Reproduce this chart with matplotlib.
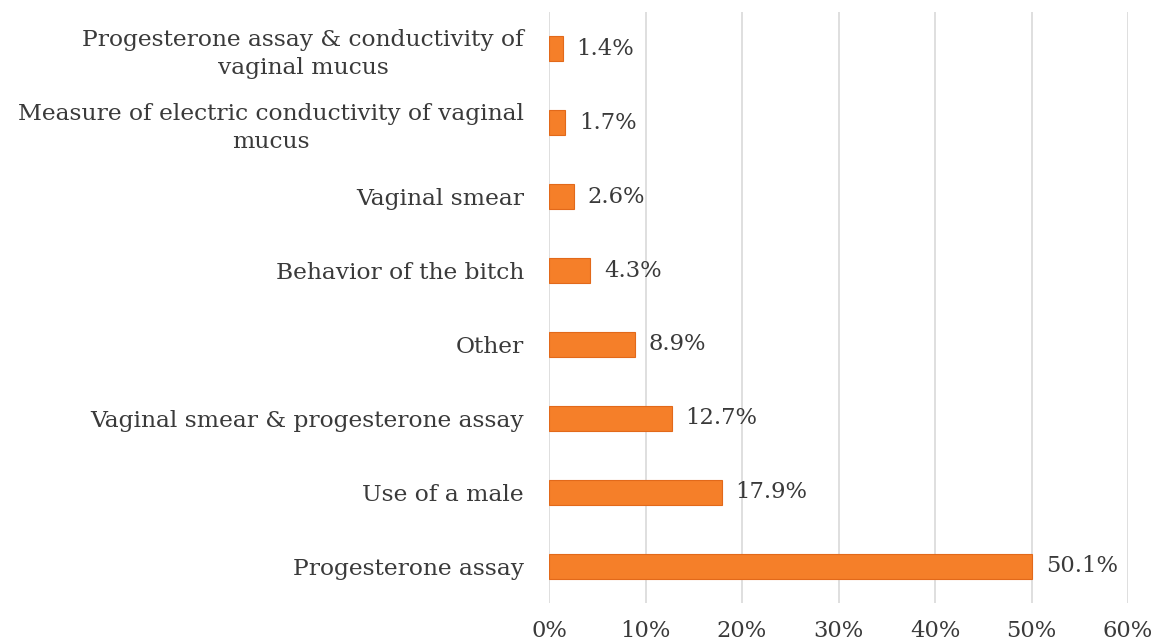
import matplotlib.pyplot as plt
from matplotlib.ticker import FuncFormatter

# data, bottom to top
methods = ['Progesterone assay', 'Use of a male',
           'Vaginal smear & progesterone assay', 'Other',
           'Behavior of the bitch', 'Vaginal smear',
           'Measure of electric conductivity of vaginal\nmucus',
           'Progesterone assay & conductivity of\nvaginal mucus']
share = [50.1, 17.9, 12.7, 8.9, 4.3, 2.6, 1.7, 1.4]

plt.rcParams['font.family'] = ['DejaVu Serif']

fig = plt.figure(figsize=(11.6, 6.44), dpi=100)
ax = fig.add_axes([549 / 1160, 1 - 603 / 644, (1128 - 549) / 1160, (603 - 12) / 644])

ypos = range(len(methods))
bars = ax.barh(ypos, share, height=0.34, color='#F57F29', edgecolor='#E2691A', linewidth=0.8, zorder=3)
for b, v in zip(bars, share):
    ax.text(v + 1.4, b.get_y() + b.get_height() / 2, f'{v}%', va='center', ha='left',
            fontsize=16.3, color='#3a3a3a')

ax.set_ylim(-0.5, len(methods) - 0.5)
ax.set_xlim(0, 60)
ax.set_xticks(range(0, 61, 10))
ax.xaxis.set_major_formatter(FuncFormatter(lambda x, p: f'{int(x)}%'))
ax.set_yticks(list(ypos))
ax.set_yticklabels(methods, multialignment='center', linespacing=1.35)
ax.grid(axis='x', color='#D9D9D9', linewidth=1.2, zorder=0)
for s in ax.spines.values():
    s.set_visible(False)
ax.tick_params(axis='both', length=0, labelsize=16.3, colors='#3a3a3a')
ax.tick_params(axis='y', labelsize=16.8, pad=18)
ax.tick_params(axis='x', pad=12)

fig.savefig('out.png', dpi=100)
